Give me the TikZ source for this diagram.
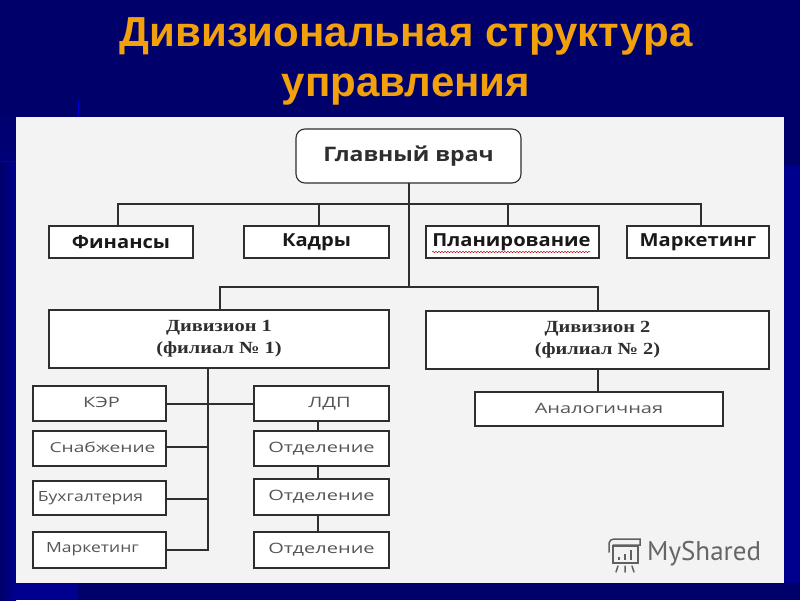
\documentclass[tikz,border=0pt]{standalone}
\usepackage{fontspec}
\setmainfont{Liberation Sans}
\newfontfamily\headfont[FakeStretch=1.12]{Open Sans}
\newfontfamily\chieffont[FakeStretch=1.15]{Open Sans}
\newfontfamily\softa[FakeStretch=1.25]{Open Sans}
\newfontfamily\softb[FakeStretch=1.4]{Open Sans}
\newfontfamily\serifbox[FakeStretch=1.2]{Liberation Serif}
\newfontfamily\logofont{PT Sans}
\usetikzlibrary{decorations.pathmorphing}
\definecolor{bgblue}{HTML}{00008E}
\definecolor{bgdark}{HTML}{00006A}
\definecolor{panel}{HTML}{F3F3F3}
\definecolor{ink}{HTML}{2E2E2E}
\definecolor{soft}{HTML}{555555}
\definecolor{titleor}{HTML}{F2A00C}
\newcommand{\off}[3]{\raisebox{#2pt}{\makebox[0pt]{\hspace{#1pt}\hspace{#1pt}#3}}}
\tikzset{
  x=1pt,y=-1pt,
  bx/.style={draw=ink,line width=1.1pt,fill=white,inner sep=0pt,outer sep=0pt,align=center},
  hd/.style={bx,font=\headfont\bfseries\fontsize{18}{20}\selectfont,text=black!90},
  dv/.style={bx,font=\serifbox\bfseries\fontsize{17}{22}\selectfont,text=ink},
  sma/.style={bx,font=\softa\fontsize{14}{16}\selectfont,text=soft},
  smb/.style={bx,font=\softb\fontsize{14.3}{16}\selectfont,text=soft},
  wire/.style={draw=ink,line width=1.1pt},
  ttl/.style={font=\bfseries\fontsize{42}{50}\selectfont,align=center,inner sep=0pt}
}
\begin{document}
\begin{tikzpicture}
\useasboundingbox (0,0) rectangle (800,600);
\fill[bgdark] (0,0) rectangle (800,600);
\shade[left color=bgdark,right color=bgblue] (0,161) rectangle (16,600);
\shade[top color=bgdark,bottom color=bgdark!60!bgblue] (0,100) rectangle (78,161);
\fill[bgblue] (784,165) rectangle (800,583);
\fill[bgblue] (16,583) rectangle (78,600);
\draw[blue!55!bgblue,line width=.5pt] (78,100) -- (78,117);
\draw[blue!45!bgblue,line width=.5pt] (0,161) -- (16,161);
\fill[panel] (16,117) rectangle (784,583);
% title
\node[ttl,text=titleor] (title) at (406,61) {Дивизиональная структура\\управления};
% boxes
\node[bx,rounded corners=9pt,minimum width=225pt,minimum height=54pt,font=\chieffont\bfseries\fontsize{20}{22}\selectfont,text=ink] (chief) at (408.5,156) {\off{0}{5}{Главный врач}};
\node[hd,minimum width=144pt,minimum height=32pt] (fin) at (121,242) {Финансы};
\node[hd,minimum width=145pt,minimum height=32pt] (kad) at (316.5,242) {\off{0}{-1}{Кадры}};
\node[hd,minimum width=173pt,minimum height=32pt] (plan) at (512.5,242) {\off{-1}{-1}{Планирование}};
\node[hd,minimum width=142pt,minimum height=32pt] (mark) at (698,242) {\off{0}{-1}{Маркетинг}};
\node[dv,minimum width=340pt,minimum height=58pt] (d1) at (219,339) {Дивизион 1\\(филиал № 1)};
\node[dv,minimum width=343pt,minimum height=58pt] (d2) at (597.5,340) {Дивизион 2\\(филиал № 2)};
\node[smb,minimum width=248pt,minimum height=34pt] (an) at (599,409) {\off{0}{2}{Аналогичная}};
\node[smb,minimum width=133pt,minimum height=35pt] (ker) at (99.5,403.5) {\off{2}{3}{КЭР}};
\node[smb,minimum width=133pt,minimum height=35pt,font=\softb\fontsize{13.7}{16}\selectfont] (sna) at (99.5,448.5) {\off{3}{2}{Снабжение}};
\node[sma,minimum width=133pt,minimum height=34pt] (buh) at (99.5,498) {\off{-9}{3}{Бухгалтерия}};
\node[sma,minimum width=133pt,minimum height=36pt] (mk2) at (99.5,550) {\off{-7}{5}{Маркетинг}};
\node[smb,minimum width=135pt,minimum height=35pt] (ldp) at (321.5,403.5) {\off{8}{2}{ЛДП}};
\node[smb,minimum width=135pt,minimum height=35pt] (o1) at (321.5,448.5) {\off{0}{2}{Отделение}};
\node[smb,minimum width=135pt,minimum height=36pt] (o2) at (321.5,497) {\off{0}{3}{Отделение}};
\node[smb,minimum width=135pt,minimum height=36pt] (o3) at (321.5,550) {\off{0}{4}{Отделение}};
% connectors
\coordinate (j1) at (409,204);
\coordinate (j2) at (409,287);
\draw[wire] (chief.south -| j1) -- (j2);
\draw[wire] (fin.north -| 118,0) |- (j1) -| (mark.north -| 701,0);
\draw[wire] (319,204) -- (kad.north -| 319,0);
\draw[wire] (508,204) -- (plan.north -| 508,0);
\draw[wire] (d1.north -| 220,0) |- (j2) -| (d2.north -| 598,0);
\draw[wire] (d2.south -| 598,0) -- (an.north -| 598,0);
\draw[wire] (d1.south -| 208,0) -- (208,550) -- (mk2.east |- 0,550);
\draw[wire] (ker.east |- 0,404) -- (ldp.west |- 0,404);
\draw[wire] (sna.east |- 0,447) -- (208,447);
\draw[wire] (buh.east |- 0,499) -- (208,499);
\draw[wire] (ldp.south -| 318,0) -- (o1.north -| 318,0);
\draw[wire] (o1.south -| 318,0) -- (o2.north -| 318,0);
\draw[wire] (o2.south -| 318,0) -- (o3.north -| 318,0);
% spell-check underline
\draw[red!70!black,line width=.5pt,decorate,decoration={snake,amplitude=.6pt,segment length=3pt}] (432,252) -- (590,252);
% watermark
\node[font=\logofont\fontsize{27}{30}\selectfont,text=black!60,inner sep=0pt,anchor=west] (logo) at (647,554) {MyShared};
\begin{scope}[draw=black!62,line width=1.5pt,line cap=round]
\draw (613,546) rectangle (638,563);
\draw (609,552) -- (609,543) to[bend left=40] (614,539) -- (640,539) -- (640,545) -- (613,545);
\draw (618,566) -- (616,572) (625,566) -- (625,572) (632,566) -- (634,572);
\draw[line width=2.2pt,line cap=butt] (619,557) -- (619,560) (625,554) -- (625,560) (631,550) -- (631,560);
\end{scope}
\end{tikzpicture}
\end{document}
